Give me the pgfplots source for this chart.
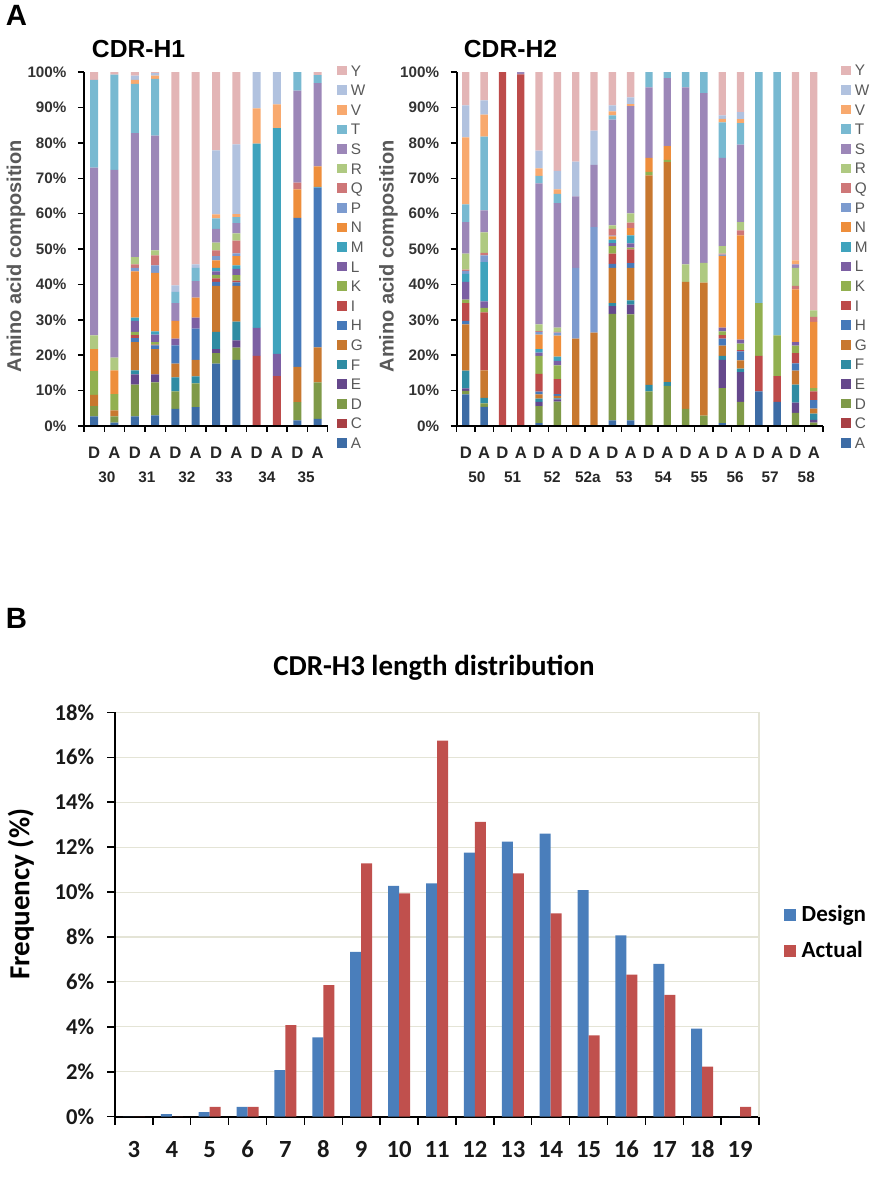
\documentclass[border=0pt]{standalone}
\usepackage{pgfplots}
\usepackage{pgfplotstable}
\usepackage{fontspec}
\pgfplotsset{compat=1.18}
\setmainfont{Liberation Sans}
\newfontfamily\calibri{Carlito}

% amino acid colours
\definecolor{cA}{HTML}{3D6CA5}
\definecolor{cC}{HTML}{A83F44}
\definecolor{cD}{HTML}{7F9A48}
\definecolor{cE}{HTML}{65488C}
\definecolor{cF}{HTML}{2F8CA3}
\definecolor{cG}{HTML}{C8782F}
\definecolor{cH}{HTML}{4679B9}
\definecolor{cI}{HTML}{BD4B4A}
\definecolor{cK}{HTML}{92B050}
\definecolor{cL}{HTML}{7C5FA3}
\definecolor{cM}{HTML}{3FA3BD}
\definecolor{cN}{HTML}{EE8E3B}
\definecolor{cP}{HTML}{7C9BCF}
\definecolor{cQ}{HTML}{CE7778}
\definecolor{cR}{HTML}{AFC981}
\definecolor{cS}{HTML}{9C87B8}
\definecolor{cT}{HTML}{78B9D1}
\definecolor{cV}{HTML}{F8A96E}
\definecolor{cW}{HTML}{B1C2DF}
\definecolor{cY}{HTML}{E3B5B6}
\definecolor{design}{HTML}{4A7EBB}
\definecolor{actual}{HTML}{C0504D}
\definecolor{gridc}{HTML}{E4E4D6}
\definecolor{labelc}{HTML}{595959}

\pgfplotstableread{
x A C D E F G H I K L M N P Q R S T V W Y
0 2.7 0 2.9 0 0 3.2 0 0 6.7 0 0 6.2 0 0 3.9 47.4 24.8 0 0 2.2
1 0.9 0 1.8 0 0 1.7 0 0 4.6 0 0 6.7 0 0 3.6 53.1 26.9 0 0 0.7
2 2.7 0 9 2.9 1.1 8 1.1 0.9 0.9 3.1 0.9 13.1 1 1 2 35.1 13.9 1.1 1.2 1
3 3 0 9.3 2.3 0 7.1 1.1 0.2 0.7 2.1 0.9 16.6 2.1 2.8 1.4 32.5 16 0.9 0.7 0.3
4 4.8 0 5 0 3.9 3.9 5.2 0 0 1.9 0 5 0 0 0 5 3.2 0 1.8 60.3
5 5.3 0 6.7 0 2 4.7 8.8 0 0 3.1 0 5.7 0 0 0 4.6 3.8 0 1 54.3
6 17.6 0 3 1.1 4.9 13 1.1 1 1 1 1 2.1 1.2 1.6 2.2 3.9 3 1.1 18.1 22.1
7 18.7 0 3.4 2.1 5.3 10.1 1 0.5 1.5 1.8 1 2.6 0.8 3.6 2 2.9 1.7 0.9 19.7 20.4
8 0 0 0 0 0 0 0 19.8 0 7.9 52.1 0 0 0 0 0 0 10 10.2 0
9 0 0 0 0 0 0 0 14.1 0 6.3 63.8 0 0 0 0 0 0 6.7 9.1 0
10 1.6 0 5.1 0 0 10 42.1 0 0 0 0 8.1 0 1.9 0 26 5.2 0 0 0
11 2 0 10.3 0 0 9.9 45.2 0 0 0 0.2 5.8 0 0 0 23.5 2.3 0 0 0.8
}\tableHone

\pgfplotstableread{
x A C D E F G H I K L M N P Q R S T V W Y
0 8.9 0 1 0.7 5 13.1 1 5 1 5 2.3 0 0.8 0.4 4.5 8.9 5 19 9 9.4
1 5.4 0 1 0 1.5 7.8 0 16.4 1.3 1.8 11.1 0 1.9 0.7 5.8 6.2 20.9 6.2 4 8
2 0 0 0 0 0 0 0 100 0 0 0 0 0 0 0 0 0 0 0 0
3 0 0 0 0 0 0 0 99.4 0 0 0 0 0 0 0 0.6 0 0 0 0
4 0.8 0 4.8 1.2 0.9 1.2 0.8 5 5.1 0.9 1 4.1 0.8 0.2 1.9 39.9 2.1 2.1 5 22.2
5 0 0 6.9 0.6 0.3 0.7 0.5 4.2 3.9 1.3 1.2 5.9 0.9 0.2 1.2 35.2 2.6 1.3 5.2 27.9
6 0 0 0 0 0 24.7 0 0 0 0 0 0 20 0 0 20.2 0 0 9.8 25.3
7 0 0 0 0 0 26.4 0 0 0 0 0 0 29.8 0 0 17.6 0 0 9.7 16.5
8 1.6 0 30.1 2.2 0.8 10 1.1 2.9 2.1 0.9 1 0.9 0.2 1.9 1 29.9 1.2 1.1 1.7 9.4
9 1.6 0 29.9 2.8 1.2 9.2 1.3 3.9 0.5 1.2 2.3 2 0 1.6 2.6 30.3 0 0.6 1.9 7.1
10 0 0 9.8 0 1.8 59.2 0 0 1 0 0 4 0 0 0 19.9 4.3 0 0 0
11 0 0 11.3 0 1.1 62.2 0 0 0.6 0 0 3.9 0 0 0 19.2 1.7 0 0 0
12 0 0 4.8 0 0 35.9 0 0 0 0 0 0 0 0 5 50 4.3 0 0 0
13 0 0 2.9 0 0 37.6 0 0 0 0 0 0 0 0 5.6 48 5.9 0 0 0
14 0.8 0 9.9 8 1.1 2.9 2 1 1 1.1 0 20.3 0.3 0.3 2.1 25 10 1 1 12.2
15 0 0 6.8 8.4 1 2.3 2.6 0.3 1.9 1.1 0 29.5 0 1.4 2.3 21.9 6.1 1.1 2 11.3
16 9.8 0 0 0 0 0 0 10 14.9 0 0 0 0 0 0 0 65.3 0 0 0
17 6.8 0 0 0 0 0 0 7.3 11.5 0 0 0 0 0 0 0 74.4 0 0 0
18 0 0 3.7 2.9 5.1 3.9 2.1 2.9 2.1 1 0 14.9 0 1 5.1 1 0 1.1 0 53.2
19 0 0 0.9 0.8 1.8 1.4 2.4 2.5 0.9 0 0 18.7 0 1.4 1.9 0 0 0 0 67.3
}\tableHtwo

\pgfplotstableread{
len design actual
3 0 0
4 0.12 0
5 0.2 0.44
6 0.44 0.44
7 2.08 4.08
8 3.53 5.86
9 7.34 11.28
10 10.27 9.94
11 10.39 16.74
12 11.75 13.12
13 12.24 10.83
14 12.6 9.05
15 10.09 3.62
16 8.07 6.32
17 6.8 5.42
18 3.92 2.23
19 0 0.44
}\tableHthree

\tikzset{poslab/.style={font=\fontsize{11.5}{12}\bfseries,text=black!85,inner sep=0pt}}

\pgfplotsset{
  cdr/.style={
    anchor=south west,
    scale only axis,
    clip=false,
    ybar stacked,
    ymin=0, ymax=100,
    ytick={0,10,...,100},
    yticklabels={0\%,10\%,20\%,30\%,40\%,50\%,60\%,70\%,80\%,90\%,100\%},
    axis x line=bottom,
    axis y line=left,
    axis line style={black,line width=1.3pt,-},
    tick style={black,line width=1.1pt},
    tick align=outside,
    major tick length=4.5pt,
    major x tick style={draw=none},
    yticklabel style={font=\fontsize{11.4}{12}\bfseries,text=black!80,inner sep=0pt,xshift=-8.5pt},
    xticklabel style={font=\fontsize{12.5}{13}\bfseries,text=black!85,inner sep=0pt,yshift=-11pt,text height=9pt},
    ylabel={Amino acid composition},
    ylabel style={font=\fontsize{15}{16}\bfseries,text=labelc},
    reverse legend,
    legend image code/.code={\fill[##1,draw=none] (0pt,0.5pt) rectangle (7.2pt,7.7pt);},
    legend style={draw=none,fill=none,anchor=north west,font=\fontsize{11.5}{12}\selectfont,
      text=labelc,row sep=4.1pt,inner sep=0pt,outer sep=0pt,
      nodes={inner sep=0pt,text height=8.6pt,text depth=2pt,anchor=base west},
      /tikz/column 1/.style={column sep=3pt}},
  },
  % second axis over the bars: only the ticks between the categories
  cdrticks/.style={
    anchor=south west,
    scale only axis,
    ymin=0, ymax=100,
    axis x line=bottom,
    axis y line=none,
    axis line style={black,line width=1.3pt,-},
    xticklabels={},
    tick style={black,line width=1.1pt},
    tick align=outside,
    major tick length=4.5pt,
  },
  aaseg/.style={draw=none,fill=c#1},
}

\begin{document}
\begin{tikzpicture}
% fixes the page at 874x1177 (1 px = 0.75 pt)
\useasboundingbox (0pt,0pt) rectangle (655.5pt,882.75pt);

\node[anchor=west,inner sep=0pt,font=\fontsize{22}{23}\bfseries] at (4.3pt,871.5pt) {A};
\node[anchor=west,inner sep=0pt,font=\fontsize{22}{23}\bfseries] at (4.3pt,419pt) {B};

% CDR-H1
\begin{axis}[cdr,
  at={(63pt,563.3pt)}, width=182.8pt, height=265.3pt,
  bar width=6pt,
  xmin=-0.5, xmax=11.5,
  xtick={0,...,11},
  xticklabels={D,A,D,A,D,A,D,A,D,A,D,A},
  ylabel style={at={(axis description cs:-0.279,0.48)},anchor=center},
  legend style={at={(axis description cs:1.039,1.0215)}},
]
\pgfplotsinvokeforeach{A,C,D,E,F,G,H,I,K,L,M,N,P,Q,R,S,T,V,W,Y}{
  \addplot[aaseg=#1] table[x=x,y=#1]{\tableHone};
}
\legend{A,C,D,E,F,G,H,I,K,L,M,N,P,Q,R,S,T,V,W,Y}
\node[font=\fontsize{18.5}{19}\bfseries,anchor=west,inner sep=0pt] at (axis cs:-0.12,106.5) {CDR-H1};
\node[poslab] at (axis cs:0.63,-14.5) {30};
\node[poslab] at (axis cs:2.6,-14.5) {31};
\node[poslab] at (axis cs:4.57,-14.5) {32};
\node[poslab] at (axis cs:6.4,-14.5) {33};
\node[poslab] at (axis cs:8.5,-14.5) {34};
\node[poslab] at (axis cs:10.44,-14.5) {35};
\end{axis}
\begin{axis}[cdrticks,
  at={(63pt,563.3pt)}, width=182.8pt, height=265.3pt,
  xmin=-0.5, xmax=11.5,
  xtick={-0.5,0.5,1.5,2.5,3.5,4.5,5.5,6.5,7.5,8.5,9.5,10.5,11.5},
]
\end{axis}

% CDR-H2
\begin{axis}[cdr,
  at={(342.5pt,563.3pt)}, width=274.7pt, height=265.3pt,
  bar width=5.5pt,
  xmin=-0.5, xmax=19.5,
  xtick={0,...,19},
  xticklabels={D,A,D,A,D,A,D,A,D,A,D,A,D,A,D,A,D,A,D,A},
  ylabel style={at={(axis description cs:-0.186,0.48)},anchor=center},
  legend style={at={(axis description cs:1.05,1.022)}},
]
\pgfplotsinvokeforeach{A,C,D,E,F,G,H,I,K,L,M,N,P,Q,R,S,T,V,W,Y}{
  \addplot[aaseg=#1] table[x=x,y=#1]{\tableHtwo};
}
\legend{A,C,D,E,F,G,H,I,K,L,M,N,P,Q,R,S,T,V,W,Y}
\node[font=\fontsize{18.5}{19}\bfseries,anchor=west,inner sep=0pt] at (axis cs:-0.12,106.5) {CDR-H2};
\node[poslab] at (axis cs:0.61,-14.5) {50};
\node[poslab] at (axis cs:2.56,-14.5) {51};
\node[poslab] at (axis cs:4.71,-14.5) {52};
\node[poslab] at (axis cs:6.67,-14.5) {52a};
\node[poslab] at (axis cs:8.64,-14.5) {53};
\node[poslab] at (axis cs:10.77,-14.5) {54};
\node[poslab] at (axis cs:12.74,-14.5) {55};
\node[poslab] at (axis cs:14.71,-14.5) {56};
\node[poslab] at (axis cs:16.62,-14.5) {57};
\node[poslab] at (axis cs:18.59,-14.5) {58};
\end{axis}
\begin{axis}[cdrticks,
  at={(342.5pt,563.3pt)}, width=274.7pt, height=265.3pt,
  xmin=-0.5, xmax=19.5,
  xtick={-0.5,0.5,1.5,2.5,3.5,4.5,5.5,6.5,7.5,8.5,9.5,10.5,11.5,12.5,13.5,14.5,15.5,16.5,17.5,18.5,19.5},
]
\end{axis}

% CDR-H3 length distribution
\begin{axis}[
  at={(86.25pt,45.2pt)}, anchor=south west,
  scale only axis, clip=false,
  width=483pt, height=303.3pt,
  ybar=0pt, bar width=8.25pt,
  xmin=2.5, xmax=19.5, ymin=0, ymax=18,
  xtick={2.5,3.5,...,19.5},
  xticklabels={},
  extra x ticks={3,...,19},
  extra x tick labels={3,4,5,6,7,8,9,10,11,12,13,14,15,16,17,18,19},
  extra x tick style={tick style={draw=none},major tick length=0pt,
    xticklabel style={font=\fontsize{18.5}{19}\calibri\bfseries,text=black!90,inner sep=0pt,
      text height=12pt,text depth=0pt,yshift=-18pt}},
  ytick={0,2,...,18},
  yticklabels={0\%,2\%,4\%,6\%,8\%,10\%,12\%,14\%,16\%,18\%},
  yticklabel style={font=\fontsize{17}{18}\calibri\bfseries,text=black!90,inner sep=0pt,xshift=-9.5pt},
  axis x line=bottom, axis y line=left,
  axis line style={black,line width=1.3pt,-},
  tick style={black,line width=1.1pt},
  tick align=outside, major tick length=6pt,
  ymajorgrids, grid style={gridc,line width=0.8pt},
  ylabel={Frequency (\%)},
  ylabel style={font=\fontsize{21.8}{22}\calibri\bfseries,at={(axis description cs:-0.146,0.55)},anchor=center},
  legend image code/.code={\fill[#1,draw=none] (0pt,0.5pt) rectangle (9pt,9.5pt);},
  legend style={draw=none,fill=none,at={(axis description cs:1.038,0.52)},anchor=north west,
    font=\fontsize{17.3}{18}\calibri\bfseries,row sep=13pt,inner sep=0pt,
    nodes={inner sep=0pt,text height=11pt,text depth=3pt,anchor=base west},
    /tikz/column 1/.style={column sep=4.5pt}},
]
\addplot[draw=none,fill=design] table[x=len,y=design]{\tableHthree};
\addplot[draw=none,fill=actual] table[x=len,y=actual]{\tableHthree};
\legend{Design,Actual}
\draw[gridc,line width=0.8pt] (rel axis cs:1,0) -- (rel axis cs:1,1);
\node[font=\fontsize{21.7}{22}\calibri\bfseries,anchor=center,inner sep=0pt] at (axis cs:10.92,20.0) {CDR-H3 length distribution};
\end{axis}
\end{tikzpicture}
\end{document}
